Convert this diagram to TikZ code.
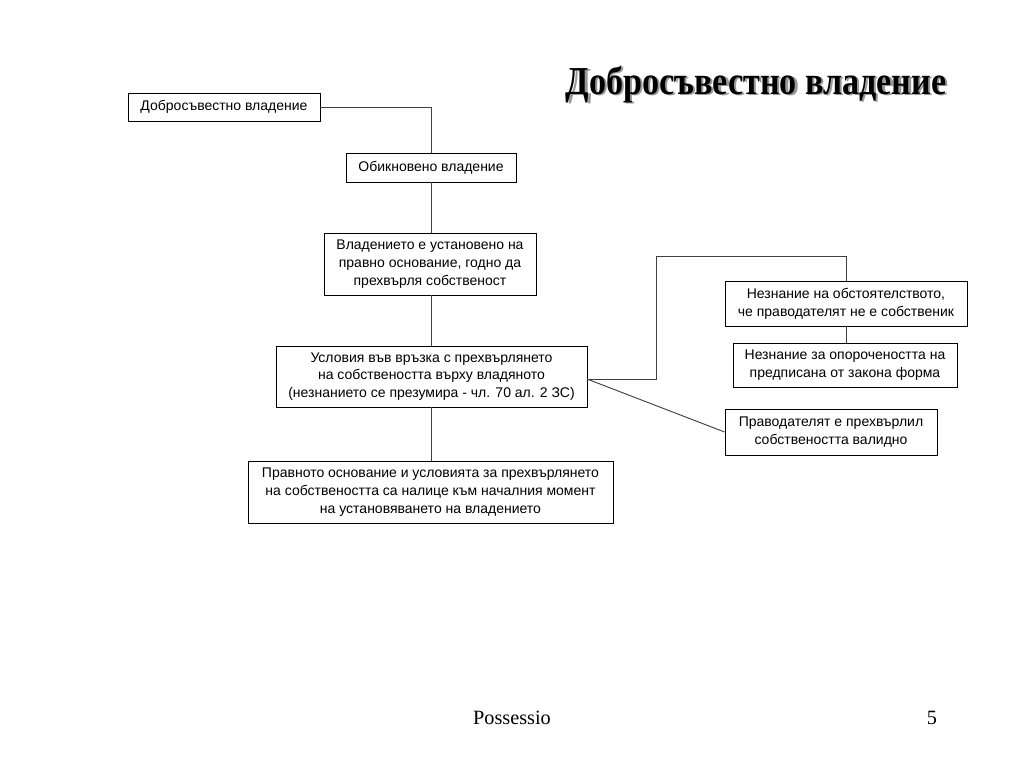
\documentclass[tikz,border=0pt]{standalone}
\usepackage{fontspec}
\setmainfont{Liberation Serif}
\newfontfamily\boxfont{Liberation Sans}
\newcommand{\shadowtxt}[1]{\makebox[0pt][l]{\hspace{1.9pt}\raisebox{-1.2pt}{\textcolor{black!40}{#1}}}#1}
\begin{document}
\begin{tikzpicture}[x=0.75pt,y=-0.75pt,
  box/.style={draw=black,line width=0.7pt,fill=white,font=\boxfont\fontsize{10.5}{13.3}\selectfont,align=center,inner sep=0pt,anchor=center},
  conn/.style={draw=black!75,line width=0.7pt}]
\useasboundingbox (0,0) rectangle (1024,768);
% title with shadow
\node[font=\bfseries\fontsize{27.5}{30}\selectfont] (title) at (756,85) {\scalebox{0.93}[1.08]{\shadowtxt{Добросъвестно владение}}};
% boxes
\node[box,minimum width=192*0.75pt,minimum height=28*0.75pt] (b1) at (224,107) {Добросъвестно владение};
\node[box,minimum width=170*0.75pt,minimum height=29*0.75pt] (b2) at (431,167.5) {Обикновено владение};
\node[box,minimum width=212*0.75pt,minimum height=62*0.75pt] (b3) at (430,264) {Владението е установено на\\правно основание, годно да\\прехвърля собственост};
\node[box,minimum width=311*0.75pt,minimum height=61*0.75pt] (b4) at (431.5,376.5) {Условия във връзка с прехвърлянето\\на собствеността върху владяното\\(незнанието се презумира - чл. 70 ал. 2 ЗС)};
\node[box,minimum width=365*0.75pt,minimum height=62*0.75pt] (b5) at (430.5,492) {Правното основание и условията за прехвърлянето\\на собствеността са налице към началния момент\\на установяването на владението};
\node[box,minimum width=242*0.75pt,minimum height=45*0.75pt] (b6) at (846,303.5) {Незнание на обстоятелството,\\че праводателят не е собственик};
\node[box,minimum width=224*0.75pt,minimum height=44*0.75pt] (b7) at (845,365) {Незнание за опорочеността на\\предписана от закона форма};
\node[box,minimum width=212*0.75pt,minimum height=46*0.75pt] (b8) at (831,432) {Праводателят е прехвърлил\\собствеността валидно};
% connectors
\coordinate (j1) at (431,107);
\coordinate (c4) at (587,379);
\coordinate (k1) at (656,379);
\coordinate (k2) at (656,256);
\coordinate (k3) at (846,256);
\draw[conn] (b1.east) -- (j1) -- (j1 |- b2.north);
\draw[conn] (431,182) -- (431,233);
\draw[conn] (431,295) -- (431,346);
\draw[conn] (431,407) -- (431,461);
\draw[conn] (c4) -- (k1) -- (k2) -- (k3) -- (k3 |- b6.north);
\draw[conn] (b6.south) -- (846,343);
\draw[conn] (c4) -- (b8.west);
% footer
\node[font=\fontsize{15.2}{17}\selectfont] (foot) at (512,718) {Possessio};
\node[font=\fontsize{15.2}{17}\selectfont] (page) at (932,718) {5};
\end{tikzpicture}
\end{document}
